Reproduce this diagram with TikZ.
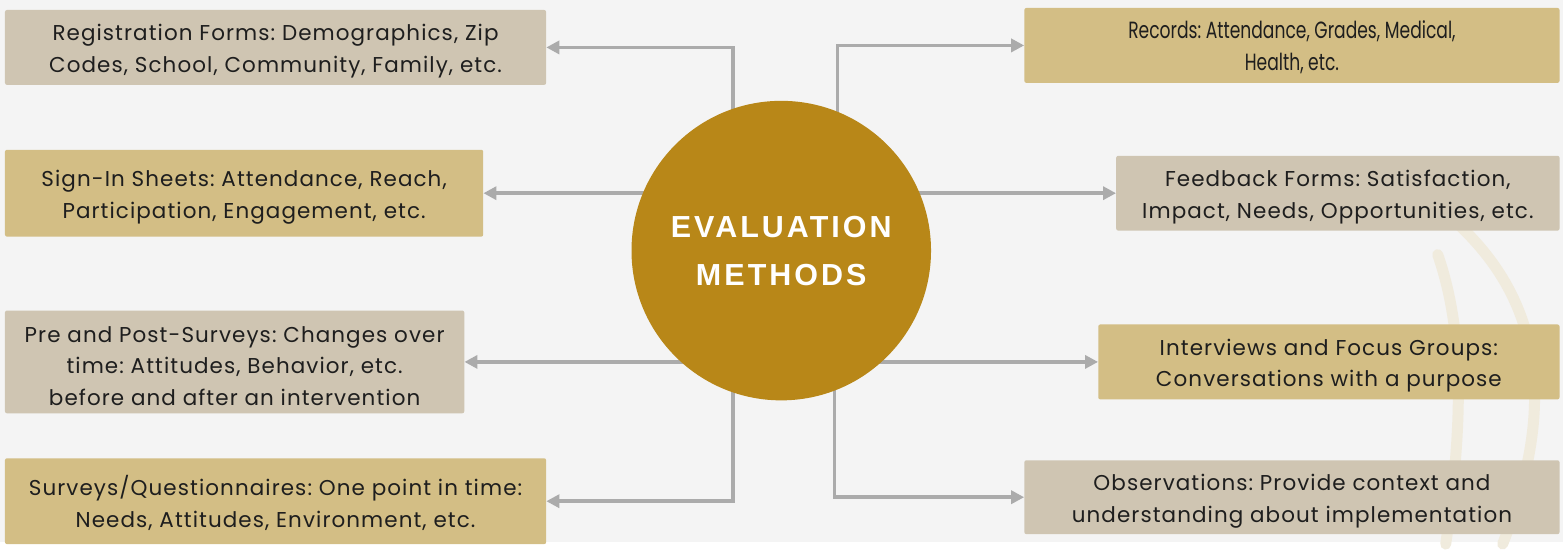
\documentclass[tikz,border=0pt]{standalone}
\usepackage{fontspec}
\setmainfont{Poppins}[LetterSpace=5]
\newfontfamily\titlefont{Liberation Sans}[LetterSpace=10]
\newfontfamily\narrowfont{Poppins}[FakeStretch=0.73]
\usetikzlibrary{arrows.meta}
\frenchspacing
\newcommand\toppad[1][24pt]{\rule{0pt}{#1}}
\definecolor{paper}{HTML}{F4F4F4}
\definecolor{taupe}{HTML}{CFC5B2}
\definecolor{sand}{HTML}{D3BE85}
\definecolor{ochre}{HTML}{B88718}
\definecolor{wire}{HTML}{ABABAB}
\definecolor{ink}{HTML}{1E1E1E}
\definecolor{swirlcol}{HTML}{F0EBDD}
\pgfdeclarelayer{back}
\pgfdeclarelayer{links}
\pgfsetlayers{back,links,main}
\tikzset{
  box/.style={rectangle,rounded corners=2pt,inner sep=0pt,align=center,
    text=ink,font=\fontsize{21.5}{31.5}\selectfont},
  link/.style={draw=wire,line width=3.5pt,-{Triangle[length=13pt,width=13pt]}},
  swirl/.style={draw=swirlcol,line width=11pt,line cap=round}
}
\begin{document}
\begin{tikzpicture}[x=1pt,y=-1pt]
\begin{pgfonlayer}{back}
  \fill[paper] (0,0) rectangle (1565,543);
  \draw[swirl] (1440,255) .. controls (1466,330) and (1466,420) .. (1448,545);
  \draw[swirl] (1462,226) .. controls (1540,300) and (1562,400) .. (1505,545);
\end{pgfonlayer}
\useasboundingbox (0,0) rectangle (1565,543);
% centre
\node[circle,fill=ochre,minimum size=300pt,inner sep=0pt,align=center,text=white,
  font=\titlefont\bfseries\fontsize{30.5}{48}\selectfont] (hub) at (782.5,251) {EVALUATION\\METHODS};
% left side
\node[box,fill=taupe,minimum width=542pt,minimum height=75pt] (reg) at (276,47.5)
  {\toppad Registration Forms: Demographics, Zip\\Codes, School, Community, Family, etc.};
\node[box,fill=sand,minimum width=479pt,minimum height=87pt] (sign) at (244.5,193.5)
  {\toppad Sign-In Sheets: Attendance, Reach,\\Participation, Engagement, etc.};
\node[box,fill=taupe,minimum width=460pt,minimum height=103pt] (pre) at (235,362.5)
  {\toppad Pre and Post-Surveys: Changes over\\time: Attitudes, Behavior, etc.\\before and after an intervention};
\node[box,fill=sand,minimum width=542pt,minimum height=86pt] (surv) at (276,502)
  {\toppad Surveys/Questionnaires: One point in time:\\Needs, Attitudes, Environment, etc.};
% right side
\node[box,fill=sand,minimum width=536pt,minimum height=75pt,
  font=\narrowfont\fontsize{23.5}{32}\selectfont] (rec) at (1294,45.5)
  {\toppad[22pt]Records: Attendance, Grades, Medical,\\Health, etc.};
\node[box,fill=taupe,minimum width=444pt,minimum height=75pt] (feed) at (1340,193.5)
  {\toppad Feedback Forms: Satisfaction,\\Impact, Needs, Opportunities, etc.};
\node[box,fill=sand,minimum width=462pt,minimum height=75pt] (inter) at (1331,362.5)
  {\toppad Interviews and Focus Groups:\\Conversations with a purpose};
\node[box,fill=taupe,minimum width=536pt,minimum height=74pt] (obs) at (1294,498)
  {\toppad Observations: Provide context and\\understanding about implementation};
% connectors
\begin{pgfonlayer}{links}
  \draw[link] ([xshift=-48.5pt]hub.center) |- (reg.east);
  \draw[link] (hub.center |- sign.east) -- (sign.east);
  \draw[link] (hub.center |- pre.east) -- (pre.east);
  \draw[link] ([xshift=-48.5pt]hub.center) |- (surv.east);
  \draw[link] ([xshift=56.5pt]hub.center) |- (rec.west);
  \draw[link] (hub.center |- feed.west) -- (feed.west);
  \draw[link] (hub.center |- inter.west) -- (inter.west);
  \draw[link] ([xshift=53.5pt]hub.center) |- (obs.west);
\end{pgfonlayer}
\end{tikzpicture}
\end{document}
